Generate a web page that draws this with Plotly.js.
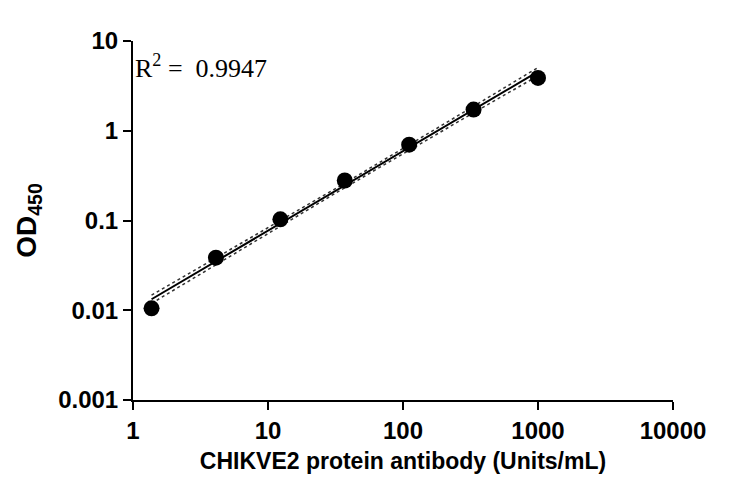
<!DOCTYPE html>
<html>
<head>
<meta charset="utf-8">
<script src="https://cdn.plot.ly/plotly-3.0.1.min.js"></script>
<style>
  html, body { margin:0; padding:0; background:#fff; }
  #chart { width:750px; height:486px; }
</style>
</head>
<body>
<div id="chart"></div>
<script>
// standard curve values (3-fold dilutions)
const concentration = [1.372, 4.115, 12.35, 37.04, 111.1, 333.3, 1000];
const od450 = [0.0105, 0.0385, 0.103, 0.279, 0.70, 1.72, 3.88];
const xTicks = [1, 10, 100, 1000, 10000];
const xTickText = ['1', '10', '100', '1000', '10000'];
const yTicks = [0.001, 0.01, 0.1, 1, 10];
const yTickText = ['0.001', '0.01', '0.1', '1', '10'];
const rSquaredText = 'R<sup>2</sup> =  0.9947';

// log-log linear regression of the points
function fitLogLog(xs, ys){
  const lx = xs.map(v=>Math.log10(v));
  const ly = ys.map(v=>Math.log10(v));
  const n = lx.length;
  const mx = lx.reduce((a,b)=>a+b,0)/n;
  const my = ly.reduce((a,b)=>a+b,0)/n;
  let sxx = 0, sxy = 0;
  lx.forEach((v,i)=>{ sxx += (v-mx)*(v-mx); sxy += (v-mx)*(ly[i]-my); });
  const slope = sxy/sxx;
  const icpt = my - slope*mx;
  let ssr = 0;
  lx.forEach((v,i)=>{ const r = ly[i]-(icpt+slope*v); ssr += r*r; });
  const s = Math.sqrt(ssr/(n-2));
  return {slope, icpt, mx, sxx, s, n};
}

const fit = fitLogLog(concentration, od450);
const lo = Math.log10(concentration[0]);
const hi = Math.log10(concentration[concentration.length-1]);
const curveX = [], curveY = [], upperY = [], lowerY = [];
for(let k=0;k<=40;k++){
  const lx = lo + (hi-lo)*k/40;
  const ly = fit.icpt + fit.slope*lx;
  const se = fit.s*Math.sqrt(1/fit.n + (lx-fit.mx)*(lx-fit.mx)/fit.sxx);
  curveX.push(Math.pow(10,lx));
  curveY.push(Math.pow(10,ly));
  upperY.push(Math.pow(10,ly+se));
  lowerY.push(Math.pow(10,ly-se));
}

const traces = [
  {x:curveX, y:upperY, mode:'lines', line:{color:'#333', width:1.5, dash:'dot'}, hoverinfo:'skip'},
  {x:curveX, y:lowerY, mode:'lines', line:{color:'#333', width:1.5, dash:'dot'}, hoverinfo:'skip'},
  {x:curveX, y:curveY, mode:'lines', line:{color:'#000', width:2}},
  {x:concentration, y:od450, mode:'markers', marker:{color:'#000', size:16}}
];

const tickFont = {family:'Liberation Sans, Arial, sans-serif', size:24, color:'#000', weight:'bold'};

const layout = {
  width:750, height:486,
  margin:{l:133, r:77, t:41, b:86},
  paper_bgcolor:'#fff', plot_bgcolor:'#fff',
  showlegend:false,
  xaxis:{
    type:'log', range:[0,4],
    tickvals:xTicks, ticktext:xTickText,
    ticks:'outside', ticklen:8, tickwidth:2, tickcolor:'#000',
    showline:true, linewidth:2, linecolor:'#000',
    showgrid:false, zeroline:false,
    tickfont:tickFont,
    title:{text:'CHIKVE2 protein antibody (Units/mL)', standoff:10,
      font:{family:'Liberation Sans, Arial, sans-serif', size:23, color:'#000', weight:'bold'}}
  },
  yaxis:{
    type:'log', range:[-3,1],
    tickvals:yTicks, ticktext:yTickText,
    ticks:'outside', ticklen:8, tickwidth:2, tickcolor:'#000',
    showline:true, linewidth:2, linecolor:'#000',
    showgrid:false, zeroline:false,
    tickfont:tickFont,
    title:{text:'OD<sub>450</sub>', standoff:13,
      font:{family:'Liberation Sans, Arial, sans-serif', size:28, color:'#000', weight:'bold'}}
  },
  annotations:[{
    xref:'paper', yref:'paper', x:0.0, y:0.93, xanchor:'left', yanchor:'middle',
    text:rSquaredText, showarrow:false,
    font:{family:'Liberation Serif, Times New Roman, serif', size:26, color:'#000'}
  }]
};

Plotly.newPlot('chart', traces, layout, {displayModeBar:false, staticPlot:true});
</script>
</body>
</html>
